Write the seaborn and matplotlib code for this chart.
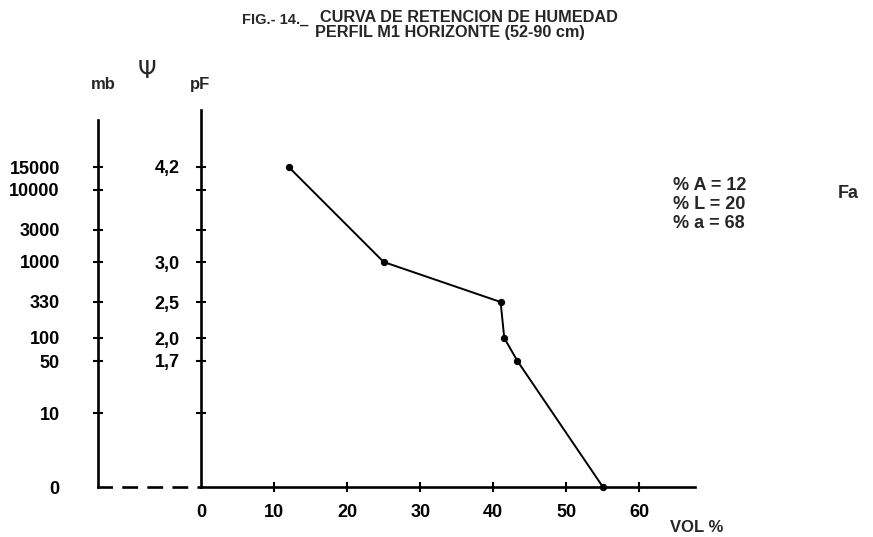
import matplotlib
matplotlib.use("Agg")
import matplotlib.pyplot as plt
from matplotlib import font_manager as fm
import numpy as np
import seaborn as sns
import pandas as pd

# Moisture retention curve: volumetric water content vs suction (pF)
vol_pct = [12, 25, 41, 41.5, 43.3, 55]
pf_vals = [4.2, 3.0, 2.5, 2.0, 1.7, 0.0]

# Suction scale: pF positions with their millibar equivalents and pF labels
tick_pf = [4.2, 4.0, 3.48, 3.0, 2.5, 2.0, 1.7, 1.0]
tick_mb = ["15000", "10000", "3000", "1000", "330", "100", "50", "10"]
tick_pf_labels = ["4,2", "", "", "3,0", "2,5", "2,0", "1,7", ""]
x_ticks = [0, 10, 20, 30, 40, 50, 60]

texture = ["% A = 12", "% L = 20", "% a = 68"]
texture_class = "Fa"

# The hand-ruled suction axis is not uniform in pF: map pF onto the
# ruled height with a piecewise-linear scale.
scale_pf = [0.0, 1.0, 1.7, 2.0, 2.5, 3.0, 3.48, 4.0, 4.2, 5.0]
scale_pos = [0, 74, 126, 149, 185, 225, 257, 297, 320, 377]


def pf_forward(v):
    return np.interp(v, scale_pf, scale_pos)


def pf_inverse(v):
    return np.interp(v, scale_pos, scale_pf)


sns.set_theme(style="white")
names = {f.name for f in fm.fontManager.ttflist}
base = "Liberation Sans" if "Liberation Sans" in names else "DejaVu Sans"
plt.rcParams["font.family"] = [base, "DejaVu Sans"]
plt.rcParams["font.weight"] = "bold"

W, H = 873, 537
fig = plt.figure(figsize=(W / 100, H / 100), dpi=100)
fig.patch.set_facecolor("white")


def fx(px):
    return px / W


def fy(py):
    return 1 - py / H


ax_bottom_px, ax_top_px = 487, 110
ax_h = (ax_bottom_px - ax_top_px) / H
ylim = (0, 5.0)

# main panel (pF axis and volume axis)
ax = fig.add_axes([fx(201), 1 - ax_bottom_px / H, (695 - 201) / W, ax_h])
ax.set_facecolor("none")
ax.set_yscale("function", functions=(pf_forward, pf_inverse))
df = pd.DataFrame({"vol": vol_pct, "pf": pf_vals})
sns.lineplot(data=df, x="vol", y="pf", ax=ax, sort=False, estimator=None,
             color="black", linewidth=1.4, marker="o", markersize=4.5,
             markeredgecolor="black", clip_on=False)
ax.set_xlim(0, 67.6)
ax.set_ylim(*ylim)
for s in ("top", "right"):
    ax.spines[s].set_visible(False)
for s in ("left", "bottom"):
    ax.spines[s].set_color("black")
    ax.spines[s].set_linewidth(1.9)
ax.set_xticks(x_ticks)
ax.set_xticklabels([str(v) for v in x_ticks], fontsize=13, fontweight="bold")
ax.set_yticks(tick_pf)
ax.set_yticklabels(tick_pf_labels, fontsize=13, fontweight="bold")
ax.minorticks_off()
ax.tick_params(axis="x", direction="inout", length=7, width=1.5, pad=9,
               colors="black", bottom=True)
ax.tick_params(axis="y", direction="inout", length=7, width=1.5, pad=12,
               colors="black", left=True)
ax.xaxis.get_major_ticks()[0].tick1line.set_visible(False)
ax.set_xlabel("")
ax.set_ylabel("")

# millibar axis to the left
ax_mb = fig.add_axes([fx(98), 1 - ax_bottom_px / H, (201 - 98) / W, ax_h])
ax_mb.set_facecolor("none")
ax_mb.set_yscale("function", functions=(pf_forward, pf_inverse))
ax_mb.set_ylim(*ylim)
ax_mb.set_xlim(0, 1)
ax_mb.set_xticks([])
for s in ("top", "right"):
    ax_mb.spines[s].set_visible(False)
ax_mb.spines["left"].set_color("black")
ax_mb.spines["left"].set_linewidth(1.9)
ax_mb.spines["left"].set_bounds(0, 4.86)
ax_mb.spines["bottom"].set_color("black")
ax_mb.spines["bottom"].set_linewidth(1.9)
ax_mb.spines["bottom"].set_linestyle((0, (5, 4.5)))
ax_mb.set_yticks(tick_pf + [0])
ax_mb.set_yticklabels(tick_mb + ["0"], fontsize=13, fontweight="bold")
ax_mb.minorticks_off()
ax_mb.tick_params(axis="y", direction="inout", length=7, width=1.5, pad=24,
                  colors="black", left=True)
ax_mb.yaxis.get_major_ticks()[-1].tick1line.set_visible(False)

# axis headings
fig.text(fx(103), fy(84), "mb", ha="center", va="center", fontsize=12,
         fontweight="bold")
fig.text(fx(147), fy(71), "Ψ", ha="center", va="center", fontsize=17,
         family=["DejaVu Sans"], fontweight="normal")
fig.text(fx(200), fy(84), "pF", ha="center", va="center", fontsize=12,
         fontweight="bold")
fig.text(fx(670), fy(528), "VOL %", ha="left", va="center", fontsize=12,
         fontweight="bold")

# title
fig.text(fx(242), fy(20), "FIG.- 14._", ha="left", va="center", fontsize=10.5,
         fontweight="bold")
fig.text(fx(320), fy(18), "CURVA DE RETENCION DE HUMEDAD", ha="left",
         va="center", fontsize=11.7, fontweight="bold")
fig.text(fx(315), fy(33), "PERFIL M1 HORIZONTE (52-90 cm)", ha="left",
         va="center", fontsize=11.7, fontweight="bold")

# soil texture annotation
for i, line in enumerate(texture):
    fig.text(fx(673), fy(185 + 19.5 * i), line, ha="left", va="center",
             fontsize=13, fontweight="bold")
fig.text(fx(838), fy(193), texture_class, ha="left", va="center", fontsize=13,
         fontweight="bold")

fig.savefig("out.png", dpi=100, facecolor="white")
